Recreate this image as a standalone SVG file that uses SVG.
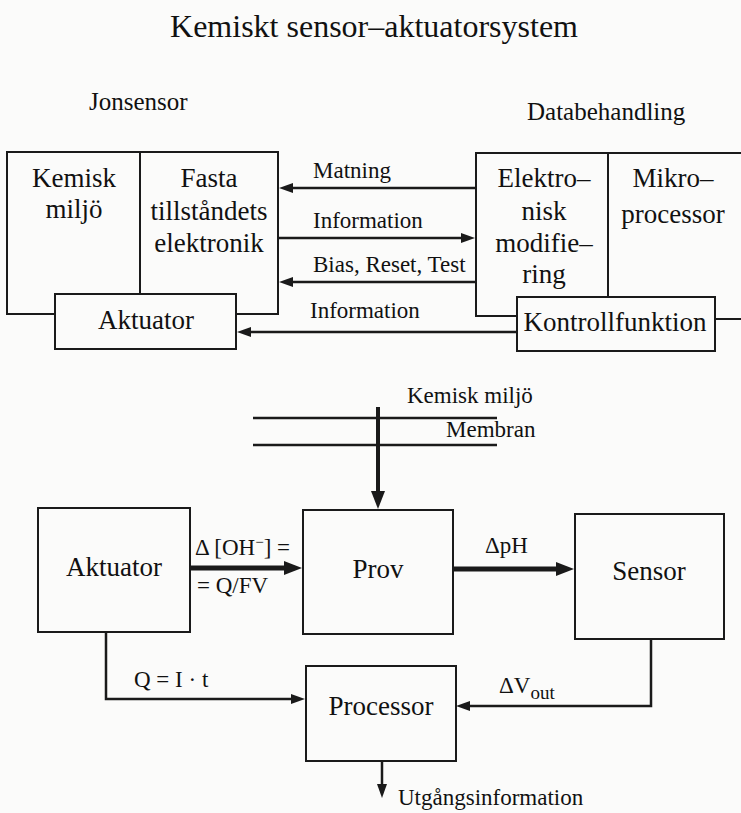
<svg xmlns="http://www.w3.org/2000/svg" width="741" height="813" viewBox="0 0 741 813">
<style>
text{font-family:"Liberation Serif","Times New Roman",serif;fill:#111}
.t{font-size:32px}
.h{font-size:25px}
.b{font-size:27px;text-anchor:middle}
.l{font-size:23px}
.box{fill:#fbfbfa;stroke:#1a1a1a;stroke-width:2}
.ln{fill:none;stroke:#1a1a1a;stroke-width:2.5}
.tk{fill:none;stroke:#1a1a1a;stroke-width:5}
</style>
<defs>
<marker id="ah" viewBox="0 0 14 10" markerWidth="14" markerHeight="10" refX="0" refY="5" markerUnits="userSpaceOnUse" orient="auto"><path d="M0,0 L14,5 L0,10 z" fill="#1a1a1a"/></marker>
<marker id="ahb" viewBox="0 0 18 14" markerWidth="18" markerHeight="14" refX="0" refY="7" markerUnits="userSpaceOnUse" orient="auto"><path d="M0,0 L18,7 L0,14 z" fill="#1a1a1a"/></marker>
</defs>
<rect width="741" height="813" fill="#fbfbfa"/>
<text class="t" x="374" y="37" text-anchor="middle">Kemiskt sensor–aktuatorsystem</text>
<text class="h" x="89" y="110">Jonsensor</text>
<text class="h" x="527" y="120">Databehandling</text>

<g id="jonsensor">
<rect class="box" x="7" y="152" width="271" height="162"/>
<line x1="140" y1="152" x2="140" y2="294" stroke="#1a1a1a" stroke-width="2"/>
<text class="b" x="74" y="187">Kemisk</text>
<text class="b" x="74" y="218">miljö</text>
<text class="b" x="209" y="187">Fasta</text>
<text class="b" x="209" y="220">tillståndets</text>
<text class="b" x="209" y="252">elektronik</text>
</g>
<g id="aktuator-top">
<rect class="box" x="55" y="294" width="181" height="55"/>
<text class="b" x="146" y="329">Aktuator</text>
</g>
<g id="databehandling">
<path d="M741,153 H476 V316 H517 M715,319 H741" fill="none" stroke="#1a1a1a" stroke-width="2"/>
<line x1="608" y1="153" x2="608" y2="297" stroke="#1a1a1a" stroke-width="2"/>
<text class="b" x="544" y="187">Elektro–</text>
<text class="b" x="544" y="220">nisk</text>
<text class="b" x="544" y="252">modifie–</text>
<text class="b" x="544" y="283">ring</text>
<text class="b" x="673" y="187">Mikro–</text>
<text class="b" x="673" y="223">processor</text>
</g>
<g id="kontrollfunktion">
<rect class="box" x="517" y="297" width="198" height="54"/>
<text class="b" x="615" y="331">Kontrollfunktion</text>
</g>

<g id="connectors-top">
<line class="ln" x1="476" y1="188" x2="293" y2="188" marker-end="url(#ah)"/>
<line class="ln" x1="278" y1="238" x2="461" y2="238" marker-end="url(#ah)"/>
<line class="ln" x1="476" y1="282" x2="293" y2="282" marker-end="url(#ah)"/>
<line class="ln" x1="517" y1="332" x2="251" y2="332" marker-end="url(#ah)"/>
<text class="l" x="313" y="178">Matning</text>
<text class="l" x="313" y="228">Information</text>
<text class="l" x="313" y="272">Bias, Reset, Test</text>
<text class="l" x="310" y="318">Information</text>
</g>

<g id="membran">
<line class="ln" x1="253" y1="418" x2="497" y2="418"/>
<line class="ln" x1="253" y1="445" x2="497" y2="445"/>
<text class="l" x="407" y="403">Kemisk miljö</text>
<text class="l" x="446" y="437">Membran</text>
</g>

<g id="aktuator">
<rect class="box" x="38" y="508" width="152" height="124"/>
<text class="b" x="114" y="576">Aktuator</text>
</g>
<g id="prov">
<rect class="box" x="303" y="510" width="150" height="124"/>
<text class="b" x="378" y="578">Prov</text>
</g>
<g id="sensor">
<rect class="box" x="575" y="514" width="149" height="125"/>
<text class="b" x="649" y="580">Sensor</text>
</g>
<g id="processor">
<rect class="box" x="306" y="666" width="150" height="95"/>
<text class="b" x="381" y="715">Processor</text>
</g>

<g id="connectors-bottom">
<line x1="378" y1="407" x2="378" y2="491" stroke="#1a1a1a" stroke-width="4" marker-end="url(#ahb)"/>
<line class="tk" x1="190" y1="568" x2="284" y2="568" marker-end="url(#ahb)"/>
<line class="tk" x1="453" y1="569" x2="556" y2="569" marker-end="url(#ahb)"/>
<path class="ln" d="M106,632 V699 H291" marker-end="url(#ah)"/>
<path class="ln" d="M651,639 V706 H470" marker-end="url(#ah)"/>
<path class="ln" d="M382,761 V784" marker-end="url(#ah)"/>
<text class="l" x="195" y="555">Δ [OH<tspan dy="-8" font-size="15">−</tspan><tspan dy="8">] =</tspan></text>
<text class="l" x="197" y="593">= Q/FV</text>
<text class="l" x="485" y="553">ΔpH</text>
<text class="l" x="134" y="687">Q = I · t</text>
<text class="l" x="499" y="693">ΔV<tspan dy="6" font-size="19">out</tspan></text>
<text class="l" x="398" y="805">Utgångsinformation</text>
</g>
</svg>
